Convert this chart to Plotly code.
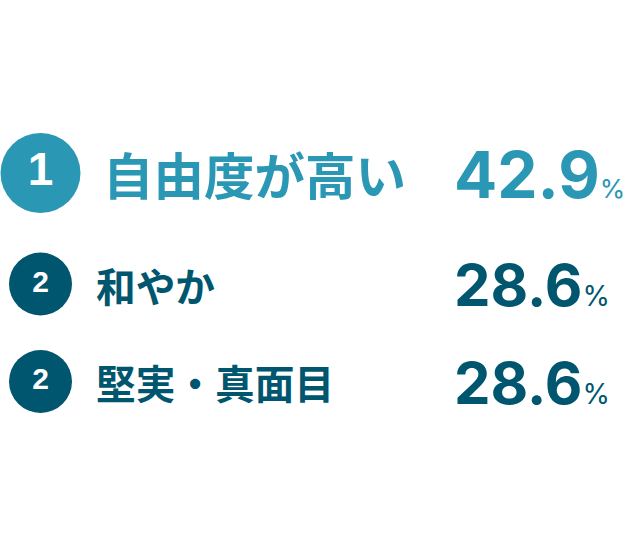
import plotly.graph_objects as go

# ---- data ----
ranks = ["1", "2", "2"]
labels = ["自由度が高い", "和やか", "堅実・真面目"]
values = [42.9, 28.6, 28.6]

# ---- style ----
LIGHT = "#2a97b5"
DARK = "#00566e"
W, H = 626, 552
row_y = [173, 284, 381.5]
circle_x = 40.5
circle_size = [80, 63, 63]
rank_font = [46, 30, 30]
label_x = [101, 94, 94]
label_font = [50.5, 39.7, 39.7]
value_x = 453
value_font = [64, 58, 58]
pct_font = [26, 28, 28]
colors = [LIGHT if r == "1" else DARK for r in ranks]

CJK = "Noto Sans CJK JP"
NUM = "Inter, Liberation Sans, Arial, sans-serif"
RANKF = "Liberation Sans, Arial, sans-serif"

fig = go.Figure()
fig.add_trace(go.Scatter(
    x=[circle_x] * len(ranks), y=row_y,
    mode="markers+text",
    marker=dict(size=circle_size, color=colors, opacity=1, line=dict(width=0)),
    text=ranks, textposition="middle center",
    textfont=dict(color="white", size=rank_font, family=RANKF, weight="bold"),
    hoverinfo="skip", showlegend=False, cliponaxis=False,
))

annotations = []
for i, (lab, val) in enumerate(zip(labels, values)):
    annotations.append(dict(
        x=label_x[i], y=row_y[i], xref="x", yref="y",
        text=lab, showarrow=False, xanchor="left", yanchor="middle",
        font=dict(family=CJK, size=label_font[i], color=colors[i], weight="bold"),
    ))
    annotations.append(dict(
        x=value_x, y=row_y[i] + 1, xref="x", yref="y",
        text=f"<b>{val:.1f}</b><span style='font-size:{pct_font[i]}px'>%</span>",
        showarrow=False, xanchor="left", yanchor="middle", borderpad=0,
        font=dict(family=NUM, size=value_font[i], color=colors[i]),
    ))

fig.update_layout(
    width=W, height=H, margin=dict(l=0, r=0, t=0, b=0),
    paper_bgcolor="white", plot_bgcolor="white",
    xaxis=dict(range=[0, W], visible=False, fixedrange=True),
    yaxis=dict(range=[H, 0], visible=False, fixedrange=True),
    annotations=annotations,
)
fig.write_html("out.html", config={"displayModeBar": False},
               post_script="document.body.style.margin='0';")
